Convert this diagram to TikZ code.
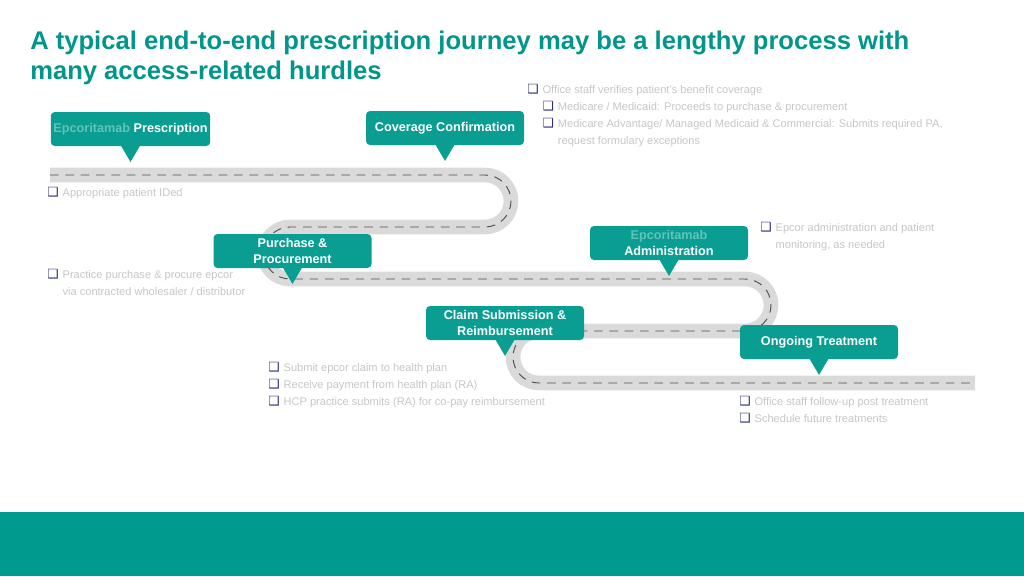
\documentclass[tikz,border=0pt]{standalone}
\usepackage{fontspec}
\setmainfont{Liberation Sans}
\newfontfamily\dingfont{DejaVu Sans}
\usetikzlibrary{positioning, calc}

\definecolor{tealbox}{HTML}{0A9E92}
\definecolor{tealband}{HTML}{009B8F}
\definecolor{tealtitle}{HTML}{00968A}
\definecolor{bulletnavy}{HTML}{2E2D7E}
\definecolor{roadgray}{HTML}{DADADA}
\definecolor{lanegray}{HTML}{505050}
\definecolor{fadetext}{HTML}{C6C6C6}
\definecolor{fadeteal}{HTML}{62C2BA}

\newcommand{\sqb}{{\dingfont\fontsize{9.5}{9.5}\selectfont\color{bulletnavy}\char"2751}}

\begin{document}
\begin{tikzpicture}[
        x=0.75pt, y=-0.75pt,
        callout/.style={fill=tealbox, rounded corners=3pt, text=white, font=\bfseries\fontsize{9.5}{12}\selectfont, minimum width=118.5pt, minimum height=25.5pt, align=center, inner sep=2pt},
        hurdle/.style={anchor=base west, inner sep=0pt, text=fadetext, font=\fontsize{8.3}{12.75}\selectfont},
        road/.style={draw=roadgray, line width=11pt},
        lane/.style={draw=lanegray, line width=0.7pt, dash pattern=on 6.5pt off 5pt}
    ]
    \useasboundingbox (0,0) rectangle (1024,576);

    \node[anchor=north west, inner sep=0pt, align=left, text=tealtitle, font=\bfseries\fontsize{19.2}{22}\selectfont] (title) at (30,31)
        {A typical end-to-end prescription journey may be a lengthy process with\\many access-related hurdles};

    % the road
    \path[road, postaction={lane}] (50,175) -- (485,175) arc(-90:90:26) -- (290,227) arc(270:90:26)
        -- (745,279) arc(-90:90:26) -- (539,331) arc(270:90:26) -- (975,383);

    % milestones
    \node[callout] (Rx) at (130.5,129) {{\color{fadeteal}Epcoritamab} Prescription};
    \node[callout] (Cov) at (445,128) {Coverage Confirmation};
    \node[callout] (Pur) at (292.5,251) {Purchase \&\\Procurement};
    \node[callout] (Adm) at (669,243) {{\color{fadeteal}Epcoritamab}\\Administration};
    \node[callout] (Clm) at (505,323) {Claim Submission \&\\Reimbursement};
    \node[callout] (Ong) at (819,342) {Ongoing Treatment};

    \foreach \c in {Rx, Cov, Pur, Adm, Clm, Ong}
        \fill[tealbox] ([xshift=-7.5pt, yshift=1pt]\c.south) -- ++(10,17) -- ++(10,-17) -- cycle;

    % hurdles
    \node[hurdle] (CovNote) at (527,93) {\begin{tabular}[t]{@{}l@{\hspace{3pt}}l@{\hspace{3pt}}l@{}}
        \sqb & \multicolumn{2}{@{}l@{}}{Office staff verifies patient's benefit coverage}\\
        & \sqb & Medicare / Medicaid: Proceeds to purchase \& procurement\\
        & \sqb & Medicare Advantage/ Managed Medicaid \& Commercial: Submits required PA,\\
        & & request formulary exceptions
    \end{tabular}};
    \node[hurdle] (RxNote) at (47,196) {\begin{tabular}[t]{@{}l@{\hspace{3pt}}l@{}}
        \sqb & Appropriate patient IDed
    \end{tabular}};
    \node[hurdle] (PurNote) at (47,278) {\begin{tabular}[t]{@{}l@{\hspace{3pt}}l@{}}
        \sqb & Practice purchase \& procure epcor\\
        & via contracted wholesaler / distributor
    \end{tabular}};
    \node[hurdle] (AdmNote) at (760,231) {\begin{tabular}[t]{@{}l@{\hspace{3pt}}l@{}}
        \sqb & Epcor administration and patient\\
        & monitoring, as needed
    \end{tabular}};
    \node[hurdle] (ClmNote) at (268,371) {\begin{tabular}[t]{@{}l@{\hspace{3pt}}l@{}}
        \sqb & Submit epcor claim to health plan\\
        \sqb & Receive payment from health plan (RA)\\
        \sqb & HCP practice submits (RA) for co-pay reimbursement
    \end{tabular}};
    \node[hurdle] (OngNote) at (739,405) {\begin{tabular}[t]{@{}l@{\hspace{3pt}}l@{}}
        \sqb & Office staff follow-up post treatment\\
        \sqb & Schedule future treatments
    \end{tabular}};

    \fill[tealband] (0,512) rectangle (1024,576);
\end{tikzpicture}
\end{document}
